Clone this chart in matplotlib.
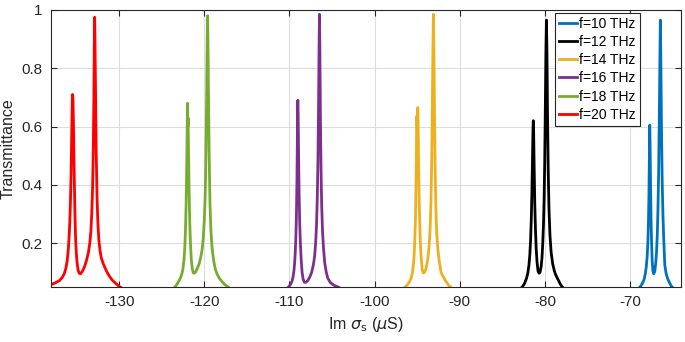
import numpy as np
import matplotlib.pyplot as plt
from matplotlib.ticker import FuncFormatter

# curvas (Im sigma_s em uS, transmitancia)
x_10 = [-69.2, -69.0, -68.83, -68.6, -68.37, -68.22, -68.1, -68.0, -67.92, -67.85, -67.79, -67.74,
        -67.7, -67.66, -67.61, -67.55, -67.48, -67.41, -67.33, -67.22, -67.1, -67.0, -66.9,
        -66.81, -66.73, -66.65, -66.58, -66.51, -66.45, -66.39, -66.32, -66.24, -66.15, -66.05,
        -65.93, -65.77, -65.55, -65.3, -65.1, -64.8]
y_10 = [0.04, 0.045, 0.05, 0.06, 0.075, 0.095, 0.12, 0.155, 0.2, 0.27, 0.37, 0.5,
        0.605, 0.55, 0.42, 0.29, 0.2, 0.14, 0.105, 0.095, 0.105, 0.13, 0.17,
        0.23, 0.32, 0.45, 0.62, 0.82, 0.965, 0.82, 0.6, 0.42, 0.3, 0.21,
        0.125, 0.095, 0.075, 0.06, 0.05, 0.043]

x_12 = [-83.2, -82.9, -82.66, -82.4, -82.16, -82.0, -81.88, -81.78, -81.69, -81.61, -81.53, -81.46,
        -81.4, -81.37, -81.33, -81.27, -81.2, -81.12, -81.03, -80.93, -80.82, -80.7, -80.58,
        -80.45, -80.35, -80.26, -80.18, -80.1, -80.03, -79.96, -79.89, -79.83, -79.77, -79.7,
        -79.62, -79.53, -79.42, -79.28, -79.1, -78.9, -78.76, -78.5, -78.2, -77.98, -77.7]
y_12 = [0.038, 0.044, 0.05, 0.062, 0.08, 0.1, 0.125, 0.16, 0.21, 0.28, 0.38, 0.5,
        0.6, 0.62, 0.58, 0.46, 0.34, 0.25, 0.18, 0.135, 0.105, 0.097, 0.1,
        0.12, 0.15, 0.2, 0.26, 0.35, 0.48, 0.66, 0.86, 0.965, 0.86, 0.64,
        0.45, 0.32, 0.23, 0.17, 0.13, 0.105, 0.093, 0.077, 0.06, 0.05, 0.043]

x_14 = [-96.9, -96.6, -96.4, -96.15, -95.9, -95.72, -95.58, -95.47, -95.38, -95.3, -95.22, -95.15,
        -95.1, -95.07, -95.03, -94.98, -94.93, -94.89, -94.83, -94.76, -94.68, -94.6, -94.5,
        -94.4, -94.3, -94.15, -94.0, -93.85, -93.7, -93.58, -93.47, -93.38, -93.3, -93.23,
        -93.16, -93.1, -93.04, -92.97, -92.9, -92.82, -92.72, -92.58, -92.42, -92.2, -92.0,
        -91.7, -91.3, -91.0]
y_14 = [0.038, 0.045, 0.05, 0.058, 0.068, 0.08, 0.097, 0.12, 0.15, 0.2, 0.27, 0.38,
        0.5, 0.635, 0.6, 0.64, 0.665, 0.6, 0.46, 0.33, 0.24, 0.18, 0.135,
        0.108, 0.098, 0.1, 0.11, 0.13, 0.16, 0.2, 0.26, 0.35, 0.48, 0.66,
        0.86, 0.985, 0.86, 0.64, 0.46, 0.33, 0.24, 0.18, 0.14, 0.1, 0.088,
        0.072, 0.055, 0.048]

x_16 = [-110.5, -110.25, -110.05, -109.85, -109.7, -109.58, -109.48, -109.4, -109.32, -109.25,
        -109.19, -109.13, -109.08, -109.04, -109.02, -108.98, -108.93, -108.87, -108.8, -108.72,
        -108.62, -108.52, -108.4, -108.25, -108.05, -107.85, -107.6, -107.4, -107.2, -107.05,
        -106.93, -106.83, -106.74, -106.66, -106.59, -106.53, -106.48, -106.43, -106.37, -106.3,
        -106.22, -106.12, -106.0, -105.85, -105.68, -105.5, -105.2, -104.8, -104.3, -104.0]
y_16 = [0.04, 0.046, 0.052, 0.06, 0.07, 0.085, 0.105, 0.13, 0.17, 0.22,
        0.29, 0.4, 0.55, 0.67, 0.69, 0.64, 0.5, 0.37, 0.27, 0.2,
        0.14, 0.1, 0.077, 0.066, 0.066, 0.072, 0.085, 0.1, 0.125, 0.155,
        0.2, 0.26, 0.35, 0.48, 0.66, 0.86, 0.985, 0.86, 0.64, 0.46,
        0.33, 0.24, 0.18, 0.13, 0.1, 0.08, 0.065, 0.056, 0.05, 0.045]

x_18 = [-124.0, -123.7, -123.45, -123.15, -122.9, -122.68, -122.52, -122.4, -122.3, -122.22,
        -122.14, -122.07, -122.01, -121.97, -121.94, -121.91, -121.87, -121.8, -121.72, -121.63,
        -121.53, -121.42, -121.3, -121.15, -121.0, -120.8, -120.6, -120.4, -120.25, -120.12,
        -120.0, -119.9, -119.81, -119.73, -119.67, -119.62, -119.57, -119.5, -119.42, -119.33,
        -119.22, -119.08, -118.9, -118.7, -118.5, -118.2, -117.8, -117.5, -117.2, -116.9]
y_18 = [0.035, 0.043, 0.05, 0.062, 0.075, 0.09, 0.11, 0.14, 0.18, 0.24,
        0.33, 0.46, 0.6, 0.68, 0.6, 0.63, 0.55, 0.4, 0.28, 0.2,
        0.145, 0.113, 0.098, 0.097, 0.103, 0.115, 0.13, 0.155, 0.18, 0.22,
        0.28, 0.36, 0.5, 0.7, 0.88, 0.98, 0.88, 0.68, 0.48, 0.33,
        0.24, 0.18, 0.14, 0.11, 0.094, 0.078, 0.064, 0.056, 0.05, 0.043]

x_20 = [-139.0, -138.5, -138.0, -137.5, -137.0, -136.7, -136.45, -136.25, -136.1, -135.98,
        -135.88, -135.8, -135.72, -135.64, -135.56, -135.5, -135.46, -135.42, -135.36, -135.28,
        -135.2, -135.12, -135.03, -134.93, -134.82, -134.7, -134.55, -134.4, -134.2, -134.0,
        -133.8, -133.6, -133.45, -133.32, -133.22, -133.12, -133.04, -132.97, -132.92, -132.88,
        -132.84, -132.78, -132.7, -132.6, -132.5, -132.38, -132.25, -132.1, -131.9, -131.7,
        -131.45, -131.15, -130.8, -130.4, -130.0, -129.6]
y_20 = [0.048, 0.053, 0.058, 0.064, 0.072, 0.082, 0.095, 0.115, 0.14, 0.175,
        0.22, 0.27, 0.34, 0.45, 0.6, 0.69, 0.71, 0.69, 0.6, 0.44,
        0.31, 0.22, 0.165, 0.13, 0.108, 0.097, 0.095, 0.1, 0.11, 0.125,
        0.145, 0.17, 0.2, 0.24, 0.3, 0.39, 0.52, 0.7, 0.88, 0.975,
        0.9, 0.74, 0.52, 0.36, 0.27, 0.21, 0.175, 0.15, 0.132, 0.118,
        0.102, 0.087, 0.073, 0.062, 0.052, 0.045]

curvas = [(x_10, y_10, 'f=10 THz', '#0072BD'),
          (x_12, y_12, 'f=12 THz', '#000000'),
          (x_14, y_14, 'f=14 THz', '#EDB120'),
          (x_16, y_16, 'f=16 THz', '#7E2F8E'),
          (x_18, y_18, 'f=18 THz', '#77AC30'),
          (x_20, y_20, 'f=20 THz', '#FF0000')]

xticks = [-130, -120, -110, -100, -90, -80, -70]
yticks = [0.2, 0.4, 0.6, 0.8, 1.0]

plt.rcParams['font.family'] = ['Liberation Sans', 'DejaVu Sans']
plt.rcParams['mathtext.fontset'] = 'dejavusans'
plt.rcParams['axes.unicode_minus'] = False

fig = plt.figure(figsize=(6.85, 3.42), dpi=100)
ax = fig.add_axes([0.0745, 0.161, 0.92, 0.81])

for x, y, nome, cor in curvas:
    ax.plot(x, y, color=cor, linewidth=2.0, label=nome)

ax.set_xlim(-138, -64)
ax.set_ylim(0.05, 1)
ax.set_xticks(xticks)
ax.set_yticks(yticks)
ax.yaxis.set_major_formatter(FuncFormatter(lambda v, p: f'{v:g}'))
ax.grid(True, color='#dddddd', linewidth=0.8)
ax.set_axisbelow(True)

ax.tick_params(direction='in', top=True, right=True, length=4, width=0.8,
               labelsize=11, colors='#262626', pad=6)
for s in ax.spines.values():
    s.set_color('#262626')
    s.set_linewidth(0.8)

ax.set_xlabel(r'Im $\sigma_{\mathrm{s}}$ ($\mu$S)', fontsize=11.5, color='#262626')
ax.set_ylabel('Transmittance', fontsize=11.5, color='#262626', labelpad=4)

leg = ax.legend(loc='upper right', bbox_to_anchor=(0.935, 0.99), borderaxespad=0,
                fontsize=10, handlelength=1.3, handletextpad=0.15, labelspacing=0.3,
                borderpad=0.3, fancybox=False, framealpha=1)
leg.get_frame().set_edgecolor('#262626')
leg.get_frame().set_linewidth(0.8)

plt.savefig('out.png', dpi=100)
